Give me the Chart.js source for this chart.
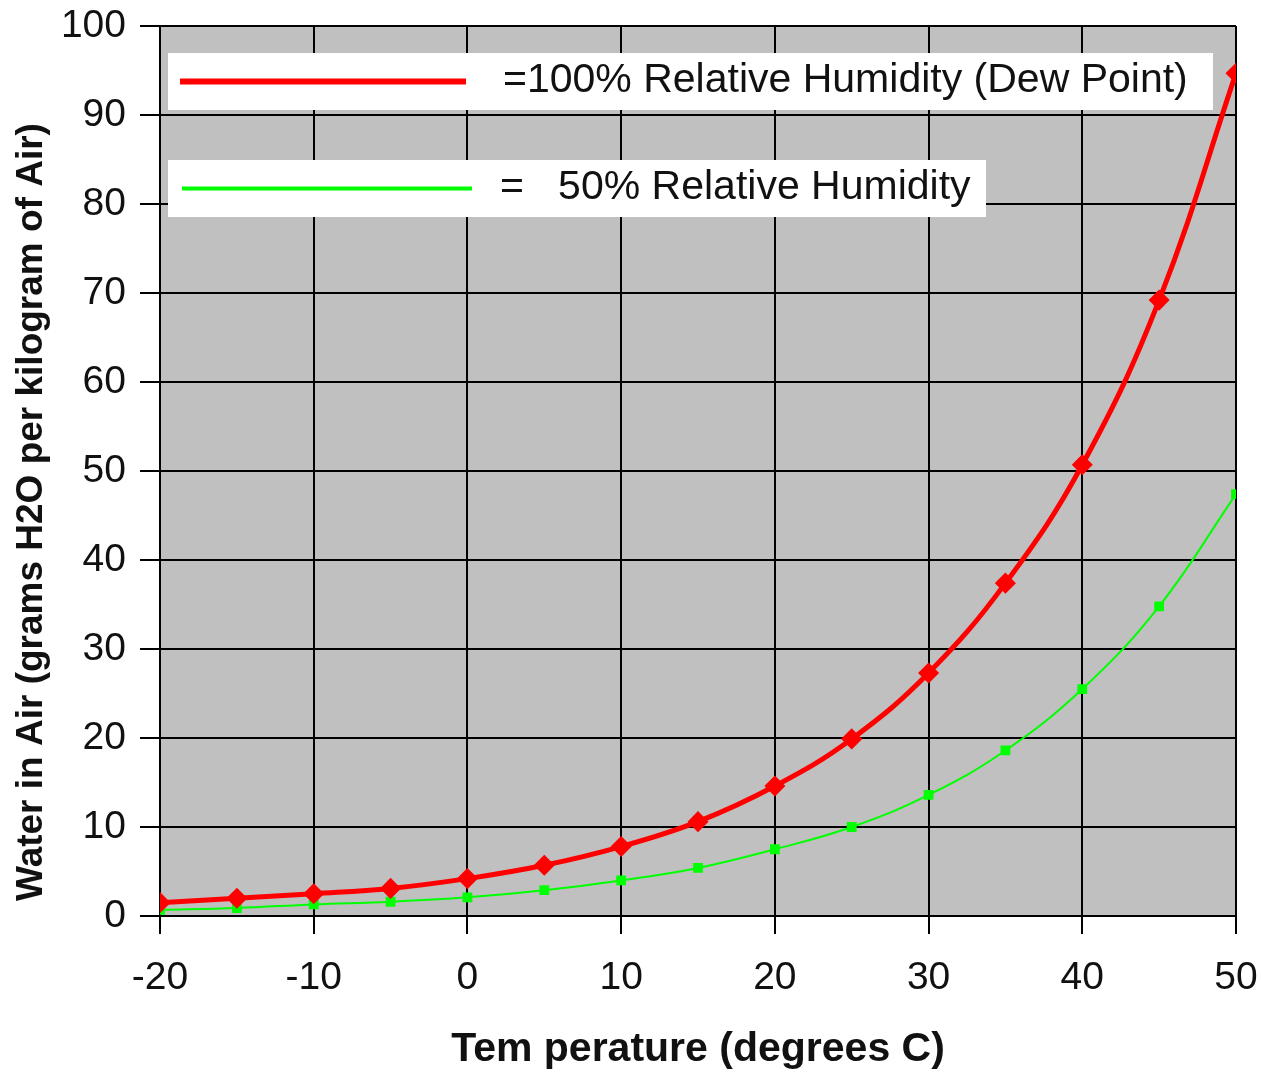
<!DOCTYPE html>
<html>
<head>
<meta charset="utf-8">
<script src="https://cdn.jsdelivr.net/npm/chart.js@4.4.7/dist/chart.umd.min.js"></script>
<style>
  html, body { margin: 0; padding: 0; background: #fff; }
  #wrap { width: 1261px; height: 1072px; position: relative; }
</style>
</head>
<body>
<div id="wrap"><canvas id="chart"></canvas></div>
<script>
// temperature in degrees C
const temps = [-20, -15, -10, -5, 0, 5, 10, 15, 20, 25, 30, 35, 40, 45, 50];
// grams H2O per kg of air
const dewPoint = [1.5, 2.0, 2.5, 3.1, 4.2, 5.7, 7.8, 10.6, 14.6, 19.9, 27.3, 37.4, 50.7, 69.2, 94.7];
const halfHumidity = [0.7, 0.9, 1.3, 1.6, 2.1, 2.9, 4.0, 5.4, 7.5, 10.0, 13.6, 18.6, 25.5, 34.8, 47.4];

const legendItems = [
    { text: '=100% Relative Humidity (Dew Point)', color: '#ff0000', width: 6 },
    { text: '=   50% Relative Humidity', color: '#00ff00', width: 4 }
];
const yTitle = 'Water in Air (grams H2O per kilogram of Air)';

const toPoints = (ys) => temps.map((t, i) => ({ x: t, y: ys[i] }));

// grey plot area behind the grid
const plotBackground = {
    id: 'plotBackground',
    beforeDraw(chart) {
        const { ctx, chartArea: a } = chart;
        ctx.save();
        ctx.fillStyle = '#c0c0c0';
        ctx.fillRect(a.left, a.top, a.right - a.left, a.bottom - a.top);
        ctx.restore();
    }
};

// y title sits a bit below the middle of the axis in the original
const sideTitle = {
    id: 'sideTitle',
    afterDraw(chart) {
        const { ctx } = chart;
        ctx.save();
        ctx.translate(32, 512);
        ctx.rotate(-Math.PI / 2);
        ctx.fillStyle = '#111';
        ctx.font = 'bold 37px "Liberation Sans", Arial, sans-serif';
        ctx.textAlign = 'center';
        ctx.textBaseline = 'middle';
        ctx.fillText(yTitle, 0, 0);
        ctx.restore();
    }
};

// the two white legend boxes inside the plot
const boxLegend = {
    id: 'boxLegend',
    afterDraw(chart) {
        const { ctx } = chart;
        const boxes = [
            { x: 168, y: 53, w: 1045, h: 57, lx1: 180, lx2: 466, tx: 503 },
            { x: 168, y: 160, w: 818, h: 57, lx1: 182, lx2: 472, tx: 500 }
        ];
        ctx.save();
        boxes.forEach((b, i) => {
            const item = legendItems[i];
            ctx.fillStyle = '#ffffff';
            ctx.fillRect(b.x, b.y, b.w, b.h);
            const cy = b.y + b.h / 2;
            ctx.strokeStyle = item.color;
            ctx.lineWidth = item.width;
            ctx.beginPath();
            ctx.moveTo(b.lx1, cy);
            ctx.lineTo(b.lx2, cy);
            ctx.stroke();
            ctx.fillStyle = '#111';
            ctx.font = '41px "Liberation Sans", Arial, sans-serif';
            ctx.textBaseline = 'middle';
            ctx.textAlign = 'left';
            ctx.fillText(item.text, b.tx, cy - 1);
        });
        ctx.restore();
    }
};

Chart.defaults.font.family = '"Liberation Sans", Arial, sans-serif';
Chart.defaults.color = '#111';

new Chart(document.getElementById('chart'), {
    type: 'line',
    data: {
        datasets: [
            {
                label: '100% Relative Humidity (Dew Point)',
                data: toPoints(dewPoint),
                borderColor: '#ff0000',
                backgroundColor: '#ff0000',
                borderWidth: 5,
                pointStyle: 'rectRot',
                pointRadius: 7,
                tension: 0.4,
                order: 1
            },
            {
                label: '50% Relative Humidity',
                data: toPoints(halfHumidity),
                borderColor: '#00ff00',
                backgroundColor: '#00ff00',
                borderWidth: 2,
                pointStyle: 'rect',
                pointRadius: 5.5,
                tension: 0.4,
                order: 2
            }
        ]
    },
    options: {
        responsive: true,
        maintainAspectRatio: false,
        animation: false,
        layout: { padding: { top: 26, right: 25, left: 0, bottom: 0 } },
        plugins: {
            legend: { display: false },
            tooltip: { enabled: false }
        },
        scales: {
            x: {
                type: 'linear',
                min: -20,
                max: 50,
                ticks: { stepSize: 10, font: { size: 39 }, padding: 21, color: '#111' },
                grid: { color: '#000', lineWidth: 2, tickLength: 18 },
                border: { color: '#000', width: 2 },
                title: {
                    display: true,
                    text: 'Tem perature (degrees C)',
                    font: { size: 41, weight: 'bold', lineHeight: 1.1 },
                    color: '#111',
                    padding: { top: 0, bottom: 0 }
                },
                afterFit(scale) {
                    scale.height = 156;
                    scale.paddingLeft = 0;
                    scale.paddingRight = 0;
                }
            },
            y: {
                min: 0,
                max: 100,
                ticks: { stepSize: 10, font: { size: 39 }, padding: 14, color: '#111' },
                grid: { color: '#000', lineWidth: 2, tickLength: 20 },
                border: { color: '#000', width: 2 },
                title: { display: false },
                afterFit(scale) {
                    scale.width = 160;
                    scale.paddingTop = 0;
                    scale.paddingBottom = 0;
                }
            }
        }
    },
    plugins: [plotBackground, boxLegend, sideTitle]
});
</script>
</body>
</html>
